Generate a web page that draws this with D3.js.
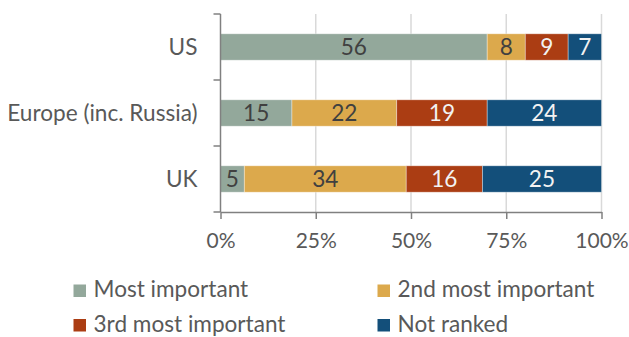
<!DOCTYPE html>
<html>
<head>
<meta charset="utf-8">
<script src="https://cdn.jsdelivr.net/npm/d3@7"></script>
<style>
  html, body { margin: 0; padding: 0; background: #fff; }
  svg { display: block; }
  text { font-family: Lato, "Open Sans", sans-serif; }
</style>
</head>
<body>
<svg id="chart" width="629" height="337"></svg>
<script>
// Regions ranked, top to bottom
const categories = ["US", "Europe (inc. Russia)", "UK"];

// Response counts for each rank
const mostImportant   = [56, 15, 5];
const secondImportant = [8, 22, 34];
const thirdImportant  = [9, 19, 16];
const notRanked       = [7, 24, 25];

const seriesNames = ["Most important", "2nd most important", "3rd most important", "Not ranked"];
const seriesValues = [mostImportant, secondImportant, thirdImportant, notRanked];
const seriesColors = ["#93a89b", "#dca94c", "#ab3d13", "#134f7a"];
const labelColors  = ["#404040", "#404040", "#f2f2f2", "#f2f2f2"];

const tickValues = [0, 0.25, 0.5, 0.75, 1];

const svg = d3.select("#chart");
const plot = { left: 220.5, right: 601.5, top: 14, bottom: 212 };
const fontSize = 22.6;
const tickFontSize = 21;

const x = d3.scaleLinear().domain([0, 1]).range([plot.left, plot.right]);
const y = d3.scaleBand().domain(categories).range([plot.top, plot.bottom])
  .paddingInner(0.6).paddingOuter(0.3);
const yAxisBand = d3.scaleBand().domain(categories).range([plot.top, plot.bottom]);

// Stack rows as shares of each row's total
const rows = categories.map((c, i) => {
  const row = { category: c };
  seriesNames.forEach((s, j) => { row[s] = seriesValues[j][i]; });
  return row;
});
const stacked = d3.stack().keys(seriesNames).offset(d3.stackOffsetExpand)(rows);

// Vertical gridlines
svg.append("g")
  .selectAll("line")
  .data(tickValues.slice(1))
  .join("line")
  .attr("x1", d => x(d)).attr("x2", d => x(d))
  .attr("y1", plot.top).attr("y2", plot.bottom)
  .attr("stroke", "#d9d9d9").attr("stroke-width", 1.5);

// Bars
const layer = svg.append("g")
  .selectAll("g")
  .data(stacked)
  .join("g")
  .attr("fill", (d, i) => seriesColors[i]);

layer.selectAll("rect")
  .data(d => d)
  .join("rect")
  .attr("x", d => x(d[0]))
  .attr("width", d => x(d[1]) - x(d[0]))
  .attr("y", d => y(d.data.category))
  .attr("height", y.bandwidth())
  .attr("stroke", "#ffffff").attr("stroke-opacity", 0.45).attr("stroke-width", 0.8);

// Value labels
stacked.forEach((s, i) => {
  svg.append("g")
    .selectAll("text")
    .data(s)
    .join("text")
    .attr("x", d => (x(d[0]) + x(d[1])) / 2)
    .attr("y", d => y(d.data.category) + y.bandwidth() / 2)
    .attr("dy", "0.36em")
    .attr("text-anchor", "middle")
    .attr("font-size", fontSize)
    .attr("fill", labelColors[i])
    .text(d => d.data[s.key]);
});

// Axes
const axisColor = "#808080";
const xAxis = svg.append("g")
  .attr("transform", `translate(0,${plot.bottom})`)
  .call(d3.axisBottom(x).tickValues(tickValues).tickFormat(d3.format(".0%")).tickSizeInner(7).tickSizeOuter(0).tickPadding(14));
xAxis.select(".domain").attr("stroke", axisColor).attr("stroke-width", 1.5);
xAxis.selectAll(".tick line").attr("stroke", axisColor).attr("stroke-width", 1.5);
xAxis.selectAll(".tick text").attr("font-size", tickFontSize).attr("fill", "#595959")
  .attr("font-family", "Lato, 'Open Sans', sans-serif");

const yAxis = svg.append("g")
  .attr("transform", `translate(${plot.left},0)`);
yAxis.append("line")
  .attr("x1", 0).attr("x2", 0).attr("y1", plot.top).attr("y2", plot.bottom)
  .attr("stroke", axisColor).attr("stroke-width", 1.5);
yAxis.selectAll(".ytick")
  .data(categories.map(c => yAxisBand(c)).concat([plot.bottom]))
  .join("line")
  .attr("x1", -7).attr("x2", 0)
  .attr("y1", d => d).attr("y2", d => d)
  .attr("stroke", axisColor).attr("stroke-width", 1.5);
yAxis.selectAll("text")
  .data(categories)
  .join("text")
  .attr("x", -23)
  .attr("y", d => y(d) + y.bandwidth() / 2)
  .attr("dy", "0.36em")
  .attr("text-anchor", "end")
  .attr("font-size", fontSize)
  .attr("fill", "#595959")
  .text(d => d);

// Legend: two columns, two rows
const legendX = [73.5, 377.5];
const legendY = [297, 331.5];
const legend = svg.append("g")
  .selectAll("g")
  .data(seriesNames)
  .join("g")
  .attr("transform", (d, i) => `translate(${legendX[i % 2]},${legendY[Math.floor(i / 2)]})`);
legend.append("rect")
  .attr("x", 0).attr("y", -12.5).attr("width", 12.5).attr("height", 12.5)
  .attr("fill", (d, i) => seriesColors[i]);
legend.append("text")
  .attr("x", 20).attr("y", 0)
  .attr("font-size", fontSize)
  .attr("fill", "#595959")
  .text(d => d);
</script>
</body>
</html>
